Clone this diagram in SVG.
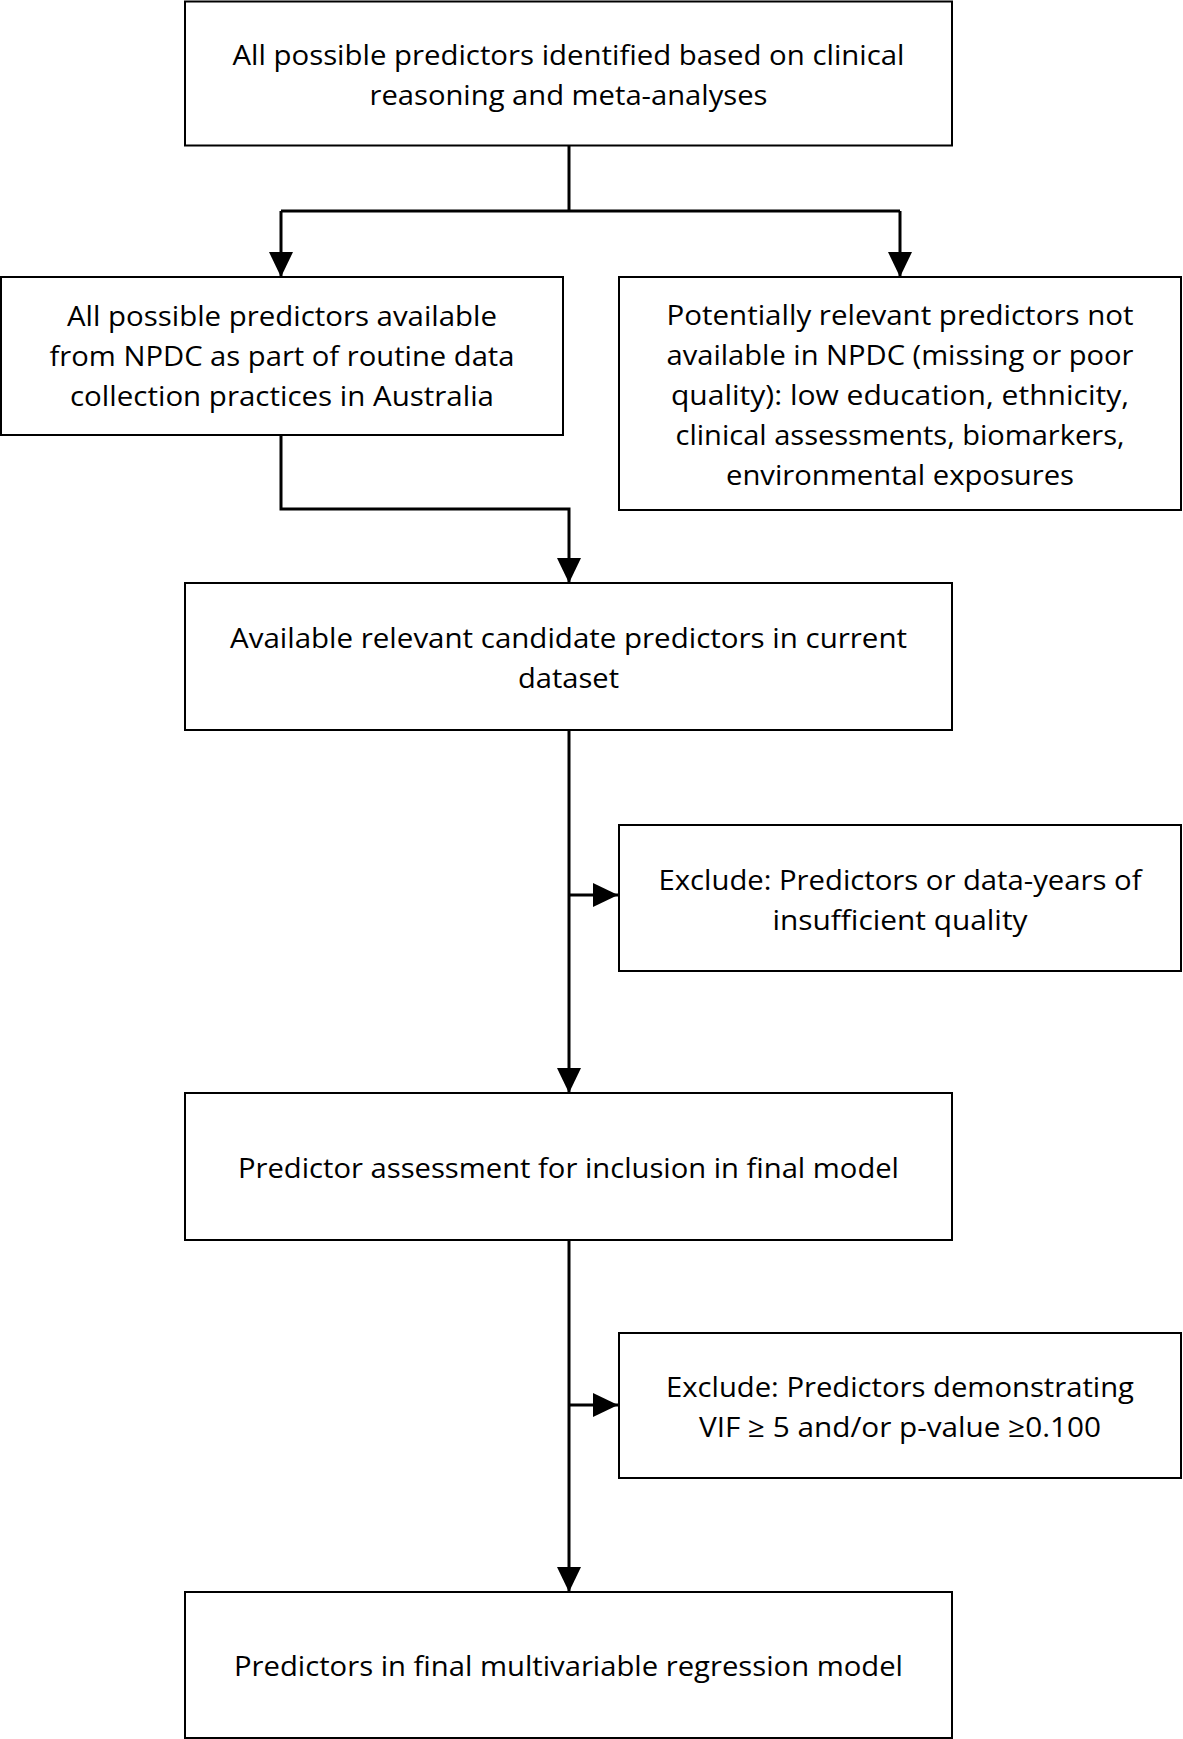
<svg xmlns="http://www.w3.org/2000/svg" width="1183" height="1739" viewBox="0 0 1183 1739">
<style>
.box{fill:#fff;stroke:#000;stroke-width:2}
.t{font-family:"Open Sans","Noto Sans","Liberation Sans",sans-serif;font-size:28px;fill:#000;text-anchor:middle}
.c{fill:none;stroke:#000;stroke-width:3}
</style>
<defs>
<marker id="ah" markerUnits="userSpaceOnUse" markerWidth="26" markerHeight="26" refX="25" refY="12" orient="auto" viewBox="0 0 26 26">
<path d="M0,0 L25,12 L0,24 z" fill="#000"/>
</marker>
</defs>
<rect width="1183" height="1739" fill="#fff"/>
<g id="connectors">
<path class="c" d="M569 146 V211"/>
<path class="c" d="M281 211 H900"/>
<path class="c" d="M281 211 V277" marker-end="url(#ah)"/>
<path class="c" d="M900 211 V277" marker-end="url(#ah)"/>
<path class="c" d="M281 435 V509 H569 V583" marker-end="url(#ah)"/>
<path class="c" d="M569 730 V1093" marker-end="url(#ah)"/>
<path class="c" d="M569 895 H618" marker-end="url(#ah)"/>
<path class="c" d="M569 1240 V1592" marker-end="url(#ah)"/>
<path class="c" d="M569 1405 H618" marker-end="url(#ah)"/>
</g>
<g id="n1">
<rect class="box" x="185" y="1.5" width="767" height="144"/>
<text class="t" x="568.5" y="65" textLength="672" lengthAdjust="spacingAndGlyphs">All possible predictors identified based on clinical</text>
<text class="t" x="568.5" y="105" textLength="398" lengthAdjust="spacingAndGlyphs">reasoning and meta-analyses</text>
</g>
<g id="n2">
<rect class="box" x="1" y="277" width="562" height="158"/>
<text class="t" x="282" y="326" textLength="430" lengthAdjust="spacingAndGlyphs">All possible predictors available</text>
<text class="t" x="282" y="366" textLength="465" lengthAdjust="spacingAndGlyphs">from NPDC as part of routine data</text>
<text class="t" x="282" y="406" textLength="424" lengthAdjust="spacingAndGlyphs">collection practices in Australia</text>
</g>
<g id="n3">
<rect class="box" x="619" y="277" width="562" height="233"/>
<text class="t" x="900" y="325" textLength="467" lengthAdjust="spacingAndGlyphs">Potentially relevant predictors not</text>
<text class="t" x="900" y="365" textLength="467" lengthAdjust="spacingAndGlyphs">available in NPDC (missing or poor</text>
<text class="t" x="900" y="405" textLength="458" lengthAdjust="spacingAndGlyphs">quality): low education, ethnicity,</text>
<text class="t" x="900" y="445" textLength="449" lengthAdjust="spacingAndGlyphs">clinical assessments, biomarkers,</text>
<text class="t" x="900" y="485" textLength="348" lengthAdjust="spacingAndGlyphs">environmental exposures</text>
</g>
<g id="n4">
<rect class="box" x="185" y="583" width="767" height="147"/>
<text class="t" x="568.5" y="648" textLength="677" lengthAdjust="spacingAndGlyphs">Available relevant candidate predictors in current</text>
<text class="t" x="568.5" y="688" textLength="101" lengthAdjust="spacingAndGlyphs">dataset</text>
</g>
<g id="n5">
<rect class="box" x="619" y="825" width="562" height="146"/>
<text class="t" x="900" y="890" textLength="483" lengthAdjust="spacingAndGlyphs">Exclude: Predictors or data-years of</text>
<text class="t" x="900" y="930" textLength="255" lengthAdjust="spacingAndGlyphs">insufficient quality</text>
</g>
<g id="n6">
<rect class="box" x="185" y="1093" width="767" height="147"/>
<text class="t" x="568.5" y="1178" textLength="661" lengthAdjust="spacingAndGlyphs">Predictor assessment for inclusion in final model</text>
</g>
<g id="n7">
<rect class="box" x="619" y="1333" width="562" height="145"/>
<text class="t" x="900" y="1397" textLength="468" lengthAdjust="spacingAndGlyphs">Exclude: Predictors demonstrating</text>
<text class="t" x="900" y="1437" textLength="402" lengthAdjust="spacingAndGlyphs">VIF ≥ 5 and/or p-value ≥0.100</text>
</g>
<g id="n8">
<rect class="box" x="185" y="1592" width="767" height="146"/>
<text class="t" x="568.5" y="1676" textLength="669" lengthAdjust="spacingAndGlyphs">Predictors in final multivariable regression model</text>
</g>
</svg>
